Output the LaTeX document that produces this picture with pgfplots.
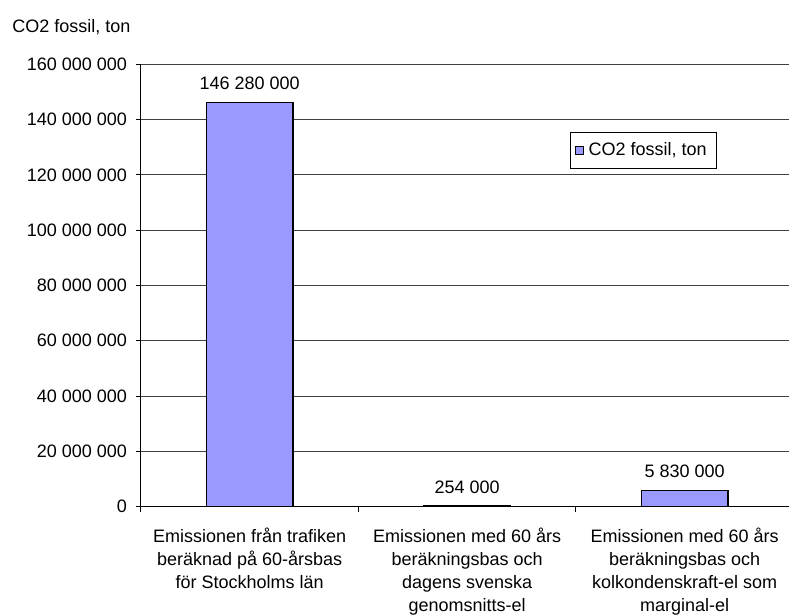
\documentclass[border=0pt]{standalone}
\usepackage{pgfplots}
\pgfplotsset{compat=1.18}
\usepackage{fontspec}
\setmainfont{Liberation Sans}
\definecolor{barcol}{HTML}{9999FF}
\begin{document}
\begin{tikzpicture}
\useasboundingbox (0,0) rectangle (394.5pt,307.5pt);
\node[anchor=base west, font=\fontsize{9}{11}\selectfont, inner sep=0pt] at (6pt,291.3pt) {CO2 fossil, ton};
\begin{axis}[
  at={(70.5pt,54.15pt)}, anchor=south west,
  scale only axis,
  width=324pt, height=221.2pt,
  xmin=-0.5, xmax=2.48,
  ymin=0, ymax=160000000,
  scaled y ticks=false,
  axis x line*=bottom, axis y line*=left,
  axis line style={black, line width=0.5pt},
  ybar, bar width=43.35pt,
  xtick={0,1,2},
  xticklabels={{Emissionen från trafiken\\beräknad på 60-årsbas\\för Stockholms län},
               {Emissionen med 60 års\\beräkningsbas och\\dagens svenska\\genomsnitts-el},
               {Emissionen med 60 års\\beräkningsbas och\\kolkondenskraft-el som\\marginal-el}},
  xticklabel style={align=center, font=\fontsize{9}{11.6}\selectfont, yshift=-4.5pt},
  major x tick style={draw=none},
  minor xtick={-0.5,0.5,1.5},
  minor x tick style={black, line width=0.5pt},
  minor tick length=2.5pt,
  ytick={0,20000000,40000000,60000000,80000000,100000000,120000000,140000000,160000000},
  yticklabels={0,20~000~000,40~000~000,60~000~000,80~000~000,100~000~000,120~000~000,140~000~000,160~000~000},
  yticklabel style={font=\fontsize{9}{11}\selectfont, xshift=-1pt},
  major y tick style={black, line width=0.5pt},
  major tick length=2.5pt,
  tick align=outside,
  ymajorgrids,
  major grid style={black!75, line width=0.5pt},
  point meta=explicit symbolic,
  nodes near coords,
  every node near coord/.append style={anchor=base, yshift=6.4pt, font=\fontsize{9}{11}\selectfont, black},
  legend style={at={(0.662,0.847)}, anchor=north west, draw=black, line width=0.4pt,
    font=\fontsize{9}{11}\selectfont, inner xsep=2.5pt, inner ysep=3pt,
    nodes={inner xsep=2.5pt}},
  legend image code/.code={\draw[fill=barcol, draw=black, line width=0.5pt] (0pt,-1.8pt) rectangle (3.6pt,1.8pt);},
  clip=false,
]
\addplot[fill=barcol, draw=black, line width=0.6pt] coordinates {
  (0,146280000) [146~280~000]
  (1,254000) [254~000]
  (2,5830000) [5~830~000]
};
\addlegendentry{CO2 fossil, ton}
\end{axis}
\end{tikzpicture}
\end{document}
